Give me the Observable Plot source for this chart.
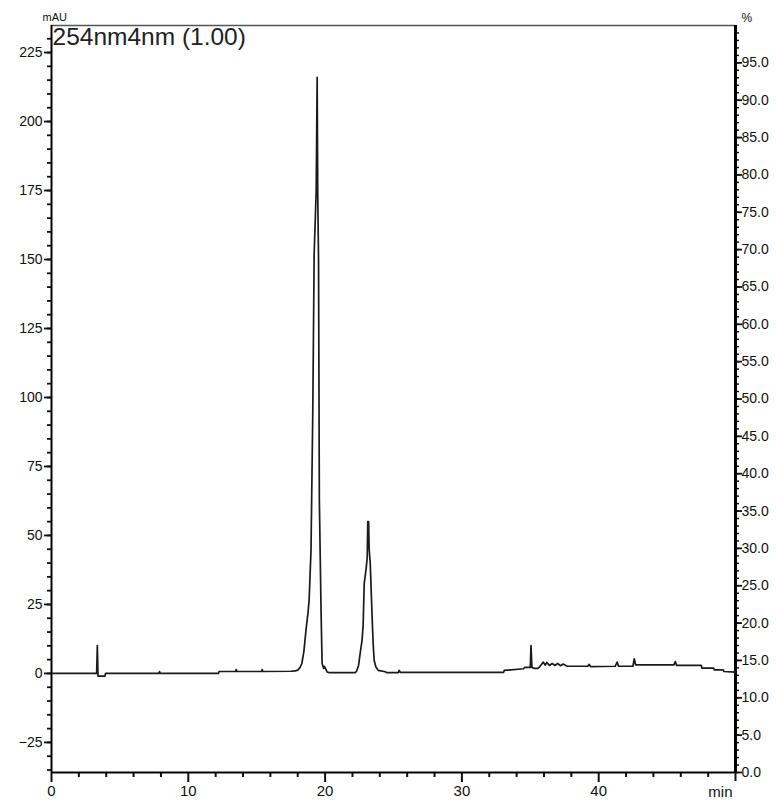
<!DOCTYPE html>
<html>
<head>
<meta charset="utf-8">
<script src="https://cdn.jsdelivr.net/npm/d3@7"></script>
<script src="https://cdn.jsdelivr.net/npm/@observablehq/plot@0.6"></script>
<style>
  html, body { margin: 0; padding: 0; background: #fff; }
  #chart svg { display: block; }
</style>
</head>
<body>
<div id="chart"></div>
<script>
// ---- Data (time in min, absorbance in mAU) ----
const timeMin = [
  0, 3.30, 3.35, 3.40, 3.90, 3.95, 7.85, 7.90, 7.95, 12.20, 12.25, 13.45, 13.50, 13.55,
  15.35, 15.40, 15.45, 17.50, 17.80, 18.00, 18.15, 18.30, 18.45, 18.60, 18.75, 18.83,
  18.97, 19.10, 19.20, 19.35, 19.42, 19.46, 19.52, 19.58, 19.70, 19.78, 19.85, 19.90,
  19.95, 20.05, 20.15, 20.30, 22.20, 22.30, 22.45, 22.56, 22.70, 22.78, 22.86, 23.00,
  23.08, 23.12, 23.18, 23.22, 23.30, 23.44, 23.52, 23.59, 23.70, 23.88, 24.40, 24.50,
  25.35, 25.42, 25.50, 33.05, 33.10, 34.50, 34.60, 35.00, 35.05, 35.12, 35.30, 35.55,
  35.70, 35.95, 36.10, 36.20, 36.40, 36.60, 36.80, 37.00, 37.20, 37.40, 37.70, 38.10,
  39.20, 39.30, 39.40, 41.20, 41.35, 41.45, 42.50, 42.60, 42.70, 45.50, 45.60, 45.70,
  47.50, 47.55, 48.40, 48.45, 49.10, 49.15, 50.00
];
const absorbance = [
  0, 0, 10.1, -1.0, -1.0, 0, 0, 0.7, 0, 0, 0.7, 0.7, 1.4, 0.7,
  0.7, 1.4, 0.7, 0.8, 0.9, 1.2, 2.0, 3.6, 8.0, 15.6, 22.0, 26.4,
  44.6, 95.0, 152.0, 175.0, 216.0, 175.0, 150.0, 63.0, 24.0, 3.6, 2.5, 1.8,
  2.6, 1.6, 0.5, 0.3, 0.3, 0.8, 3.0, 7.2, 12.0, 17.4, 32.6, 38.0,
  42.0, 55.0, 55.0, 45.0, 40.0, 20.0, 10.0, 4.7, 2.5, 1.1, 0.6, 0.3,
  0.3, 1.1, 0.4, 0.4, 1.1, 1.7, 2.2, 2.2, 10.1, 2.2, 1.8, 1.8,
  2.5, 4.1, 3.0, 4.0, 2.9, 3.6, 2.9, 3.6, 2.8, 3.4, 2.6, 2.6,
  2.6, 3.3, 2.5, 2.6, 4.1, 2.6, 2.6, 5.3, 3.1, 3.1, 4.3, 2.9,
  2.9, 1.9, 1.9, 1.3, 1.3, 0.7, 0.5
];

// ---- Axes ----
const xDomain = [0, 50];
const yDomain = [-35.9, 234.8];          // mAU
const pctDomain = [0, 100];              // right axis, %
const xMajorTicks = [0, 10, 20, 30, 40];
const xMinorTicks = [2, 4, 6, 8, 12, 14, 16, 18, 22, 24, 26, 28, 32, 34, 36, 38, 42, 44, 46, 48];
const xEndTick = [50];
const yMajorTicks = [-25, 0, 25, 50, 75, 100, 125, 150, 175, 200, 225];
const yMinorTicks = d3.range(-35, 235, 5);
const pctMajorTicks = [0, 5, 10, 15, 20, 25, 30, 35, 40, 45, 50, 55, 60, 65, 70, 75, 80, 85, 90, 95];
const pctMinorTicks = d3.range(0, 100, 1);

const titleText = ["254nm4nm (1.00)"];
const yUnit = ["mAU"];
const pctUnit = ["%"];
const xUnit = ["min"];

// map % onto the mAU scale for the right-hand axis
const pctToY = p => yDomain[0] + (p - pctDomain[0]) / (pctDomain[1] - pctDomain[0]) * (yDomain[1] - yDomain[0]);
const yToPct = v => pctDomain[0] + (v - yDomain[0]) / (yDomain[1] - yDomain[0]) * (pctDomain[1] - pctDomain[0]);

const trace = timeMin.map((t, i) => ({t, v: absorbance[i]}));
const font = "'Liberation Sans', Arial, sans-serif";
const ink = "#111";

const chart = Plot.plot({
  width: 776,
  height: 805,
  marginLeft: 51,
  marginRight: 41,
  marginTop: 25,
  marginBottom: 33,
  style: {fontFamily: font, fontSize: "14px", color: ink, background: "#fff"},
  x: {domain: xDomain, axis: null},
  y: {domain: yDomain, axis: null},
  marks: [
    // bottom axis
    Plot.axisX(xMajorTicks, {anchor: "bottom", tickSize: 10, tickPadding: 3, strokeWidth: 2, fontSize: 15, label: null, fill: ink}),
    Plot.axisX(xMinorTicks, {anchor: "bottom", tickSize: 5, strokeWidth: 2, tickFormat: () => "", label: null}),
    Plot.axisX(xEndTick, {anchor: "bottom", tickSize: 9, strokeWidth: 2, tickFormat: () => "", label: null}),
    // left axis
    Plot.axisY(yMajorTicks, {anchor: "left", tickSize: 7, tickPadding: 2, strokeWidth: 1.8, fontSize: 14, label: null, fill: ink}),
    Plot.axisY(yMinorTicks, {anchor: "left", tickSize: 4, strokeWidth: 1.8, tickFormat: () => "", label: null}),
    // right axis (%)
    Plot.axisY(pctMajorTicks.map(pctToY), {anchor: "right", tickSize: 6, tickPadding: 0, strokeWidth: 1.8, fontSize: 14, label: null, fill: ink,
      tickFormat: v => yToPct(v).toFixed(1)}),
    Plot.axisY(pctMinorTicks.map(pctToY), {anchor: "right", tickSize: 3, strokeWidth: 1.5, tickFormat: () => "", label: null}),
    // frame
    Plot.ruleY([yDomain[1]], {stroke: "#555", strokeWidth: 1.5}),
    Plot.ruleX([xDomain[0]], {stroke: "#000", strokeWidth: 2}),
    Plot.ruleY([yDomain[0]], {stroke: "#000", strokeWidth: 2}),
    Plot.ruleX([xDomain[1]], {stroke: "#000", strokeWidth: 3}),
    // chromatogram
    Plot.line(trace, {x: "t", y: "v", stroke: "#1a1a1a", strokeWidth: 1.7, curve: "linear"}),
    // texts
    Plot.text(titleText, {frameAnchor: "top-left", dx: 1, dy: 2, textAnchor: "start", lineAnchor: "top", fontSize: 24.5, fill: "#222"}),
    Plot.text(yUnit, {frameAnchor: "top-left", dx: -9, dy: -5, textAnchor: "start", lineAnchor: "bottom", fontSize: 11, fill: ink}),
    Plot.text(pctUnit, {frameAnchor: "top-right", dx: 6, dy: -4, textAnchor: "start", lineAnchor: "bottom", fontSize: 12, fill: ink}),
    Plot.text(xUnit, {frameAnchor: "bottom-right", dx: -3, dy: 14, textAnchor: "end", lineAnchor: "top", fontSize: 15, fill: ink})
  ]
});
document.getElementById("chart").append(chart);
</script>
</body>
</html>
